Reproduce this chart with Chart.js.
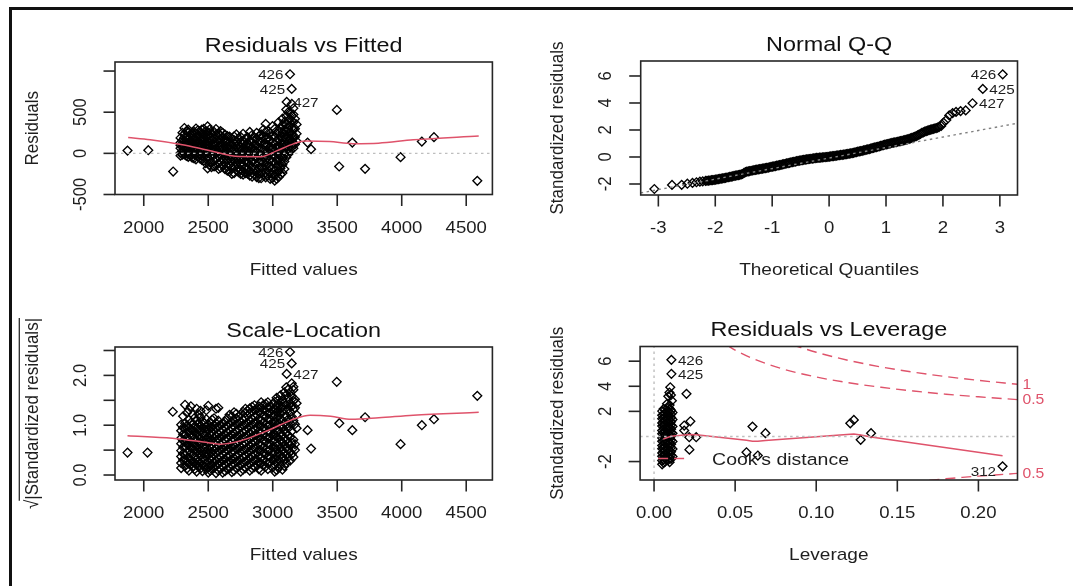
<!DOCTYPE html>
<html><head><meta charset="utf-8">
<script src="https://cdn.jsdelivr.net/npm/chart.js@4.4.1/dist/chart.umd.min.js"></script>
<style>
html,body{margin:0;padding:0;background:#fff;}
#wrap{position:relative;width:1073px;height:586px;overflow:hidden;background:#fff;}
canvas{position:absolute;left:0;top:0;}
#frameTop{position:absolute;left:9px;top:7px;width:1064px;height:3px;background:#111;}
#frameLeft{position:absolute;left:9px;top:7px;width:3px;height:579px;background:#111;}
</style></head><body>
<div id="wrap">
<canvas id="c1" width="1073" height="586"></canvas>
<canvas id="c2" width="1073" height="586"></canvas>
<canvas id="c3" width="1073" height="586"></canvas>
<canvas id="c4" width="1073" height="586"></canvas>
<div id="frameTop"></div><div id="frameLeft"></div>
</div>
<script>
// ---------- Panel 1: Residuals vs Fitted ----------
const rfCols = [
 [2285,[130,62,4,188,98,-28]],
 [2315,[308,236,152,88,33,-12,194]],
 [2345,[262,178,118,57,2,-43,288,91]],
 [2375,[221,148,83,18,-52,253,112]],
 [2405,[302,191,122,49,-18,238,153,-72]],
 [2435,[268,203,128,71,-3,-61,158,28]],
 [2465,[297,183,108,52,-12,-88,232,141]],
 [2495,[328,221,149,87,22,-53,-182,262,118]],
 [2525,[243,168,101,38,-31,-109,-168,197,63]],
 [2560,[296,188,121,58,-2,-71,-148,228,18]],
 [2595,[271,172,107,41,-22,-98,-173,212,79]],
 [2630,[228,149,82,19,-51,-118,-192,181,-9]],
 [2665,[204,131,58,-2,-69,-139,-218,99,-32]],
 [2700,[207,122,49,-12,-81,-158,-241,162,18]],
 [2735,[183,108,42,-28,-99,-171,-229,61,-62]],
 [2770,[238,151,69,2,-71,-142,-218,112,-258]],
 [2805,[197,121,38,-31,-109,-181,-248,81,-19]],
 [2840,[223,129,61,-21,-101,-168,-239,-282,168]],
 [2875,[249,179,98,22,-58,-141,-212,-288,62]],
 [2910,[232,141,58,-19,-92,-169,-238,-302,188]],
 [2945,[358,262,168,91,8,-72,-151,-231,-291,119]],
 [2980,[241,161,79,-2,-81,-159,-242,-311,41]],
 [3015,[298,202,118,39,-41,-121,-198,-262,-332]],
 [3045,[378,268,172,78,-2,-79,-152,-221,-289]],
 [3075,[342,251,168,92,11,-62,-139,-238,421]],
 [3105,[452,348,262,178,98,21,-48,532]],
 [3135,[498,418,338,262,181,102,31]],
 [3160,[548,472,378,291,198,121,62]],
 [3185,[352,238,148]]
];
const rfCols2 = [
 [2300,[160,95,30,250,-15]],
 [2330,[270,200,120,60,0,-30]],
 [2360,[230,150,90,30,-20,190]],
 [2390,[260,180,110,50,-10,-60]],
 [2420,[280,210,140,80,10,-40]],
 [2450,[240,170,100,40,-30,-80,290]],
 [2480,[270,200,130,70,0,-60,-120]],
 [2510,[290,190,130,70,0,-80,-140]],
 [2545,[260,180,110,50,-20,-90,-160]],
 [2580,[240,150,90,20,-40,-120,-190]],
 [2612,[250,190,120,60,-10,-80,-150]],
 [2648,[210,140,70,0,-80,-160,-210]],
 [2683,[180,110,30,-40,-110,-180,-250]],
 [2718,[230,150,80,10,-50,-120,-200]],
 [2752,[200,140,70,0,-70,-130,-200,-250]],
 [2788,[180,100,30,-40,-100,-170,-240]],
 [2822,[260,160,90,20,-60,-140,-210,-270]],
 [2858,[190,110,40,-40,-120,-190,-260]],
 [2892,[210,140,60,-30,-110,-180,-250,-300]],
 [2928,[290,200,110,40,-40,-110,-190,-260]],
 [2962,[270,190,100,30,-50,-120,-200,-270]],
 [2998,[330,210,130,60,-20,-100,-180,-250,-300]],
 [3030,[240,150,80,0,-80,-160,-240,-310]],
 [3060,[300,210,120,40,-40,-110,-180,-260]],
 [3090,[380,290,210,130,50,-20,-100,-190]],
 [3120,[500,400,300,220,140,60,-10]],
 [3148,[600,460,390,310,230,150,80]],
 [3172,[420,300,200,110]]
];
const rfExtra = [[1874,34],[2035,38],[2228,-221],[3497,528],[3515,-160],[3617,131],[3716,-188],[3991,-46],[4156,143],[4250,197],[4586,-334],[3270,131],[3297,51],[3134,961],[3147,783],[3108,625]];
const rfSmoothX = [1879,2050,2300,2490,2740,2910,3030,3160,3250,3440,3620,3820,4090,4597];
const rfSmoothY = [192,165,105,42,-39,-40,30,115,150,143,118,124,164,212];
const rfXTicks = [2000,2500,3000,3500,4000,4500];
const rfYTicks = [-500,0,500,1000];
const rfYLabels = ['-500','0','500',''];
const rfIds = [['426',3134,961,'left'],['425',3147,783,'left'],['427',3108,625,'right']];

// ---------- Panel 2: Normal Q-Q ----------
const qqTheo = [-3.07,-2.76,-2.59,-2.49,-2.40,-2.33,-2.27,-2.22,
 -2.17,-2.12,-2.07,-2.02,-1.97,-1.92,-1.87,-1.82,-1.77,-1.72,-1.67,-1.62,-1.57,-1.52,-1.47,-1.42,-1.37,-1.32,-1.27,-1.22,-1.17,-1.12,-1.07,-1.02,
 -0.97,-0.92,-0.87,-0.82,-0.77,-0.72,-0.67,-0.62,-0.57,-0.52,-0.47,-0.42,-0.37,-0.32,-0.27,-0.22,-0.17,-0.12,-0.07,-0.02,
 0.03,0.08,0.13,0.18,0.23,0.28,0.33,0.38,0.43,0.48,0.53,0.58,0.63,0.68,0.73,0.78,0.83,0.88,0.93,0.98,
 1.03,1.08,1.13,1.18,1.23,1.28,1.33,1.38,1.43,1.48,1.53,1.58,1.63,1.68,1.73,1.78,1.83,1.88,1.93,1.97,
 2.01,2.06,2.11,2.17,2.23,2.31,2.40,2.52,2.70,3.05];
const qqStd = [-2.37,-2.07,-2.06,-1.98,-1.92,-1.87,-1.83,-1.80,
 -1.77,-1.75,-1.72,-1.70,-1.66,-1.62,-1.58,-1.54,-1.50,-1.45,-1.40,-1.36,-1.32,-1.26,-1.12,-1.06,-1.02,-0.98,-0.94,-0.90,-0.86,-0.82,-0.78,-0.73,
 -0.69,-0.64,-0.60,-0.55,-0.50,-0.45,-0.40,-0.36,-0.31,-0.27,-0.23,-0.19,-0.16,-0.13,-0.10,-0.07,-0.05,-0.03,-0.01,0.01,
 0.04,0.07,0.10,0.13,0.16,0.19,0.23,0.27,0.31,0.36,0.41,0.46,0.51,0.56,0.62,0.68,0.73,0.79,0.85,0.91,
 0.96,1.01,1.06,1.10,1.15,1.20,1.25,1.31,1.38,1.46,1.55,1.66,1.78,1.88,1.95,2.02,2.08,2.14,2.22,2.30,
 2.55,2.74,3.08,3.25,3.34,3.40,3.45,3.98,5.04,6.12];
const qqTheo2 = [-2.145,-2.095,-2.045,-1.995,-1.945,-1.895,-1.845,-1.795,-1.745,-1.695,-1.645,-1.595,-1.545,-1.495,-1.445,-1.395,-1.345,-1.295,-1.245,-1.195,-1.145,-1.095,-1.045,
 -0.995,-0.945,-0.895,-0.845,-0.795,-0.745,-0.695,-0.645,-0.595,-0.545,-0.495,-0.445,-0.395,-0.345,-0.295,-0.245,-0.195,-0.145,-0.095,-0.045,
 0.005,0.055,0.105,0.155,0.205,0.255,0.305,0.355,0.405,0.455,0.505,0.555,0.605,0.655,0.705,0.755,0.805,0.855,0.905,0.955,
 1.005,1.055,1.105,1.155,1.205,1.255,1.305,1.355,1.405,1.455,1.505,1.555,1.605,1.655,1.705,1.755,1.805,1.855,1.905];
const qqStd2 = [-1.76,-1.74,-1.71,-1.68,-1.64,-1.60,-1.56,-1.52,-1.48,-1.43,-1.38,-1.34,-1.29,-1.18,-1.09,-1.04,-1.00,-0.96,-0.92,-0.88,-0.84,-0.80,-0.76,
 -0.71,-0.67,-0.62,-0.58,-0.53,-0.48,-0.43,-0.38,-0.34,-0.29,-0.25,-0.21,-0.18,-0.15,-0.12,-0.09,-0.06,-0.04,-0.02,0.00,
 0.03,0.06,0.09,0.12,0.15,0.18,0.21,0.25,0.29,0.34,0.39,0.44,0.49,0.54,0.59,0.65,0.71,0.76,0.82,0.88,
 0.94,0.99,1.04,1.08,1.13,1.18,1.23,1.28,1.34,1.42,1.50,1.60,1.72,1.83,1.92,1.99,2.05,2.11,2.18];
const qqLineX = [-3.31,3.31];
const qqLineY = [-2.66,2.50];
const qqXTicks = [-3,-2,-1,0,1,2,3];
const qqYTicks = [-2,0,2,4,6];
const qqIds = [['426',3.05,6.12,'left'],['425',2.70,5.04,'right'],['427',2.52,3.98,'right']];

// ---------- Panel 3: Scale-Location ----------
const slCols = [
 [2290,[0.24,0.37,0.49,0.63,0.74,0.89,1.01,0.14]],
 [2320,[0.18,0.31,0.41,0.56,0.67,0.81,0.93,1.04,1.41]],
 [2350,[0.09,0.23,0.35,0.49,0.61,0.71,0.86,0.96,1.11,1.31]],
 [2380,[0.16,0.27,0.41,0.53,0.64,0.79,0.89,1.03,1.21]],
 [2410,[0.07,0.21,0.32,0.46,0.58,0.69,0.83,0.94,1.09,1.33]],
 [2440,[0.13,0.24,0.39,0.49,0.63,0.74,0.88,0.99,1.16,1.29]],
 [2470,[0.17,0.31,0.43,0.54,0.68,0.79,0.93,1.04]],
 [2500,[0.05,0.16,0.27,0.41,0.51,0.66,0.76,0.91,1.01,1.39]],
 [2530,[0.11,0.21,0.36,0.46,0.61,0.71,0.86,0.96,1.11]],
 [2560,[0.04,0.19,0.29,0.44,0.54,0.69,0.79,0.94,1.04,1.33]],
 [2595,[0.12,0.26,0.36,0.51,0.61,0.76,0.86,1.01]],
 [2630,[0.08,0.21,0.32,0.46,0.57,0.71,0.82,0.96,1.07]],
 [2665,[0.14,0.28,0.38,0.53,0.63,0.78,0.89,1.03,1.21]],
 [2700,[0.09,0.23,0.34,0.48,0.59,0.73,0.84,0.98,1.09,1.26]],
 [2735,[0.17,0.28,0.42,0.53,0.67,0.78,0.92,1.03,1.17]],
 [2770,[0.11,0.25,0.36,0.50,0.61,0.75,0.86,1.00,1.11,1.27]],
 [2805,[0.19,0.29,0.44,0.54,0.69,0.79,0.94,1.04,1.19,1.29]],
 [2840,[0.13,0.27,0.38,0.52,0.63,0.77,0.88,1.02,1.13,1.28,1.37]],
 [2875,[0.21,0.31,0.46,0.56,0.71,0.81,0.96,1.06,1.21,1.32]],
 [2910,[0.09,0.23,0.34,0.49,0.59,0.74,0.84,0.99,1.09,1.24,1.35,1.46]],
 [2945,[0.17,0.27,0.42,0.52,0.67,0.77,0.92,1.02,1.17,1.28,1.43]],
 [2980,[0.26,0.36,0.51,0.61,0.76,0.86,1.01,1.11,1.26,1.37]],
 [3015,[0.07,0.21,0.31,0.46,0.56,0.71,0.81,0.96,1.06,1.21,1.32,1.47]],
 [3045,[0.14,0.31,0.44,0.61,0.74,0.91,1.04,1.19,1.29,1.43,1.51]],
 [3075,[0.11,0.36,0.49,0.66,0.79,0.96,1.09,1.26,1.37,1.51]],
 [3105,[0.24,0.41,0.54,0.71,0.84,1.01,1.19,1.41,1.61,1.76]],
 [3135,[0.29,0.46,0.59,0.76,1.04,1.26,1.44,1.66]],
 [3160,[0.36,0.54,0.71,1.09,1.31,1.49,1.71]],
 [3185,[0.94,1.21,1.44]]
];
const slCols2 = [
 [2305,[0.30,0.43,0.56,0.69,0.82,0.95,1.18]],
 [2335,[0.13,0.26,0.45,0.62,0.76,0.99,1.25]],
 [2365,[0.20,0.30,0.43,0.55,0.66,0.79,0.92,1.05,1.38]],
 [2395,[0.12,0.25,0.37,0.50,0.61,0.74,0.86,0.98,1.15]],
 [2425,[0.17,0.28,0.42,0.54,0.66,0.78,0.92,1.03,1.22]],
 [2455,[0.08,0.20,0.33,0.45,0.57,0.70,0.83,0.95,1.08]],
 [2485,[0.12,0.24,0.36,0.47,0.60,0.72,0.85,0.97,1.12,1.30]],
 [2515,[0.09,0.20,0.32,0.45,0.56,0.70,0.82,0.95,1.06]],
 [2545,[0.15,0.26,0.40,0.50,0.65,0.75,0.90,1.00,1.14]],
 [2578,[0.09,0.22,0.33,0.47,0.58,0.72,0.83,0.97,1.09,1.35]],
 [2612,[0.05,0.17,0.29,0.41,0.53,0.66,0.78,0.91,1.03]],
 [2648,[0.12,0.25,0.37,0.50,0.60,0.74,0.86,0.99,1.14]],
 [2683,[0.06,0.19,0.31,0.44,0.56,0.69,0.81,0.94,1.06,1.18]],
 [2718,[0.14,0.27,0.39,0.52,0.64,0.77,0.89,1.02,1.14,1.23]],
 [2752,[0.07,0.20,0.32,0.45,0.57,0.70,0.82,0.95,1.07,1.21]],
 [2788,[0.14,0.27,0.39,0.52,0.64,0.77,0.89,1.02,1.14,1.25,1.33]],
 [2822,[0.09,0.22,0.35,0.47,0.60,0.72,0.85,0.97,1.10,1.23,1.34]],
 [2858,[0.16,0.29,0.41,0.54,0.66,0.79,0.91,1.04,1.17,1.30,1.40]],
 [2892,[0.12,0.25,0.38,0.50,0.63,0.75,0.88,1.00,1.13,1.26,1.38]],
 [2928,[0.19,0.31,0.44,0.56,0.69,0.81,0.94,1.06,1.19,1.31,1.41]],
 [2962,[0.12,0.24,0.37,0.49,0.62,0.74,0.87,0.99,1.12,1.24,1.36,1.46]],
 [2998,[0.15,0.30,0.43,0.56,0.68,0.80,0.93,1.05,1.18,1.30,1.42]],
 [3030,[0.10,0.24,0.38,0.52,0.64,0.77,0.89,1.01,1.14,1.27,1.39,1.55]],
 [3060,[0.20,0.40,0.55,0.69,0.84,0.98,1.12,1.24,1.35,1.46,1.60]],
 [3090,[0.18,0.30,0.44,0.60,0.74,0.90,1.04,1.17,1.32,1.45,1.66]],
 [3120,[0.36,0.50,0.64,0.80,0.94,1.12,1.33,1.53,1.72]],
 [3148,[0.42,0.64,0.88,1.17,1.38,1.58]],
 [3172,[0.50,0.62,1.02,1.35,1.52]]
];
const slExtra = [[1874,0.45],[2029,0.45],[2225,1.27],[3496,1.87],[3516,1.04],[3617,0.90],[3716,1.16],[3991,0.62],[4156,1.00],[4250,1.12],[4586,1.59],[3270,0.90],[3297,0.53],[3134,2.47],[3147,2.24],[3108,2.03],[3147,1.84],[3160,1.77]];
const slSmoothX = [1874,2221,2501,2595,2755,2968,3181,3289,3449,3609,3822,4089,4597];
const slSmoothY = [0.79,0.74,0.65,0.62,0.69,0.90,1.14,1.20,1.18,1.12,1.15,1.20,1.26];
const slYTicks = [0,0.5,1,1.5,2,2.5];
const slYLabels = ['0.0','','1.0','','2.0',''];
const slIds = [['426',3134,2.47,'left'],['425',3147,2.24,'left'],['427',3108,2.03,'right']];

// ---------- Panel 4: Residuals vs Leverage ----------
const lvCols = [
 [0.0050,[-1.92,-1.58,-1.31,-0.97,-0.72,-0.38,-0.12,0.21,0.47,0.83,1.08,1.42,1.69,2.02,-2.22]],
 [0.0059,[-2.10,-1.83,-1.52,-1.22,-0.95,-0.64,-0.33,-0.02,0.28,0.57,0.88,1.18,1.47,1.78,2.20]],
 [0.0068,[-2.01,-1.73,-1.44,-1.17,-0.83,-0.56,-0.23,0.06,0.37,0.63,0.97,1.24,1.56,1.83,2.12]],
 [0.0087,[-1.88,-1.62,-1.28,-1.02,-0.68,-0.41,-0.08,0.18,0.52,0.78,1.12,1.38,1.72,1.98,2.28]],
 [0.0096,[-2.05,-1.71,-1.41,-1.12,-0.79,-0.51,-0.19,0.11,0.42,0.71,1.02,1.31,1.62,1.91,2.22,2.50]],
 [0.0105,[-1.79,-1.48,-1.22,-0.88,-0.62,-0.28,0.02,0.31,0.58,0.92,1.18,1.52,1.78,2.08]],
 [0.0114,[-1.60,-1.00,-0.40,0.25,0.80,1.35,1.90]]
];
const lvExtra = [[0.0100,3.92],[0.0095,3.5],[0.0088,3.2],[0.0104,3.3],[0.0110,2.85],[0.0080,2.6],[0.0107,6.11],[0.0107,4.99],[0.0200,3.4],[0.0186,0.87],[0.0224,1.21],[0.0217,-0.06],[0.0260,-0.06],[0.0218,-1.05],[0.0186,0.47],[0.057,-1.26],[0.0607,0.79],[0.064,-1.52],[0.0687,0.26],[0.121,1.05],[0.1232,1.32],[0.1274,-0.27],[0.1338,0.26],[0.2149,-2.38]];
const lvSmoothX = [0.0057,0.0105,0.0186,0.0218,0.026,0.057,0.0607,0.064,0.0687,0.121,0.1232,0.1274,0.1338,0.2149];
const lvSmoothY = [-0.20,0.02,0.12,0.15,0.14,-0.30,-0.38,-0.38,-0.33,0.18,0.20,0.12,-0.05,-1.53];
const cook1X = [0.085,0.09,0.10,0.12,0.14,0.16,0.18,0.20,0.2241];
const cook1Y = [7.34,7.11,6.71,6.06,5.54,5.12,4.77,4.47,4.16];
const cook05X = [0.045,0.05,0.06,0.08,0.10,0.12,0.14,0.16,0.18,0.20,0.2241];
const cook05Y = [7.28,6.89,6.26,5.36,4.74,4.28,3.92,3.62,3.37,3.16,2.94];
const cook05nX = [0.16,0.17,0.18,0.19,0.20,0.21,0.2241];
const cook05nY = [-3.62,-3.49,-3.37,-3.26,-3.16,-3.07,-2.94];
const cookLabels = [['1',4.16],['0.5',2.94],['0.5',-2.94]];
const lvXTicks = [0,0.05,0.10,0.15,0.20];
const lvXLabels = ['0.00','0.05','0.10','0.15','0.20'];
const lvYTicks = [-2,2,4,6];
const lvIds = [['426',0.0107,6.11,'right'],['425',0.0107,4.99,'right'],['312',0.2149,-2.38,'left',5]];

// ---------- rendering helpers ----------
const W = 1073, H = 586;
const FONT = '"Liberation Sans", Arial, Helvetica, sans-serif';
const RED = '#DF536B';
const TXT = '#1e1e1e';
const TICK_LEN = 11.5;
const SX = 1.12; // horizontal stretch of the reference picture

function pts(xs, ys){ return xs.map((x,i)=>({x:x, y:ys[i]})); }
function colsToPts(cols){ const out=[]; cols.forEach(c=>c[1].forEach(y=>out.push({x:c[0],y:y}))); return out; }
function pairPts(arr){ return arr.map(p=>({x:p[0],y:p[1]})); }

// horizontal text, stretched horizontally like the reference
function hText(ctx, s, x, y, size, align, color){
  ctx.save(); ctx.translate(x, y); ctx.scale(SX, 1);
  ctx.font = size + 'px ' + FONT; ctx.textAlign = align || 'center'; ctx.textBaseline = 'middle';
  ctx.fillStyle = color || TXT; ctx.fillText(s, 0, 0); ctx.restore();
}
// vertical text (reads bottom to top)
function vText(ctx, s, x, y, size){
  ctx.save(); ctx.translate(x, y); ctx.rotate(-Math.PI/2); ctx.scale(1, SX);
  ctx.font = size + 'px ' + FONT; ctx.textAlign = 'center'; ctx.textBaseline = 'middle';
  ctx.fillStyle = TXT; ctx.fillText(s, 0, 0); ctx.restore();
}

function scatterSet(data){
  return {data, pointStyle:'rectRot', pointRadius:4.4, pointBorderWidth:1.35,
    pointBorderColor:'#000', pointBackgroundColor:'rgba(0,0,0,0)', showLine:false, clip:10};
}
function lineSet(data, color, width, dash, smooth){
  return {data, showLine:true, pointRadius:0, borderColor:color, borderWidth:width,
    borderDash:dash||[], cubicInterpolationMode: smooth ? 'monotone' : 'default', tension:0, clip:0, fill:false};
}

function axesPlugin(d){
  return {
    id:'rAxes',
    afterDatasetsDraw(chart){
      const ctx = chart.ctx, a = chart.chartArea, xs = chart.scales.x, ys = chart.scales.y;
      ctx.save();
      ctx.strokeStyle = '#262626'; ctx.lineWidth = 1.6; ctx.setLineDash([]);
      ctx.strokeRect(a.left, a.top, a.right-a.left, a.bottom-a.top);
      d.xTicks.forEach((v,i)=>{
        const px = xs.getPixelForValue(v);
        ctx.beginPath(); ctx.moveTo(px, a.bottom); ctx.lineTo(px, a.bottom+TICK_LEN); ctx.stroke();
        hText(ctx, d.xLabels[i], px, a.bottom+33.5, 16.6, 'center');
      });
      d.yTicks.forEach((v,i)=>{
        const py = ys.getPixelForValue(v);
        ctx.beginPath(); ctx.moveTo(a.left, py); ctx.lineTo(a.left-TICK_LEN, py); ctx.stroke();
        if (d.yLabels[i]) vText(ctx, d.yLabels[i], a.left-34.5, py, 16.6);
      });
      const cx = (a.left+a.right)/2, cy = (a.top+a.bottom)/2;
      hText(ctx, d.title, cx, a.top-16, 20.9, 'center', '#111');
      hText(ctx, d.xlab, cx, a.bottom+75.5, 17, 'center');
      if (d.sqrtLab) {
        ctx.save(); ctx.translate(a.left-82.5, cy); ctx.rotate(-Math.PI/2); ctx.scale(1, SX);
        ctx.font = '17px ' + FONT; ctx.textBaseline = 'middle'; ctx.fillStyle = TXT;
        const rad = '\u221A', body = d.ylab;
        const wr = ctx.measureText(rad).width, wb = ctx.measureText(body).width;
        const x0 = -(wr+wb)/2;
        ctx.textAlign = 'left';
        ctx.fillText(rad, x0, 0);
        ctx.fillText(body, x0+wr, 0);
        ctx.strokeStyle = TXT; ctx.lineWidth = 1.1;
        ctx.beginPath(); ctx.moveTo(x0+wr-1, -11.8); ctx.lineTo(x0+wr+wb, -11.8); ctx.stroke();
        ctx.restore();
      } else {
        vText(ctx, d.ylab, a.left-82.5, cy, 17);
      }
      // point id labels
      d.ids.forEach(l=>{
        const px = xs.getPixelForValue(l[1]), py = ys.getPixelForValue(l[2]);
        const dy = l[4] || 0;
        if (l[3]==='left') hText(ctx, l[0], px-6.5, py+1+dy, 13.6, 'right');
        else hText(ctx, l[0], px+6.5, py+1+dy, 13.6, 'left');
      });
      if (d.extra) d.extra(ctx, a, xs, ys);
      ctx.restore();
    }
  };
}

function makePanel(id, box, xr, yr, datasets, deco){
  return new Chart(document.getElementById(id), {
    type:'scatter',
    data:{datasets},
    options:{
      responsive:false, animation:false, devicePixelRatio:1, events:[],
      layout:{padding:{left:box[0], top:box[1], right:W-box[2], bottom:H-box[3]}},
      scales:{
        x:{type:'linear', min:xr[0], max:xr[1], display:false},
        y:{type:'linear', min:yr[0], max:yr[1], display:false}
      },
      plugins:{legend:{display:false}, tooltip:{enabled:false}, title:{display:false}}
    },
    plugins:[axesPlugin(deco)]
  });
}

// Panel 1
makePanel('c1', [115,62,492.4,194.5], [1777,4703], [-500,1110], [
  lineSet(pts(rfSmoothX, rfSmoothY), RED, 1.5, null, true),
  lineSet([{x:1777,y:0},{x:4703,y:0}], '#bebebe', 1.4, [2.5,3.5], false),
  scatterSet(colsToPts(rfCols).concat(colsToPts(rfCols2), pairPts(rfExtra)))
], {title:'Residuals vs Fitted', xlab:'Fitted values', ylab:'Residuals',
    xTicks:rfXTicks, xLabels:rfXTicks.map(String), yTicks:rfYTicks, yLabels:rfYLabels, ids:rfIds});

// Panel 2
makePanel('c2', [640.7,61,1017.5,195], [-3.31,3.31], [-2.815,7.11], [
  lineSet(pts(qqLineX, qqLineY), '#808080', 1.4, [2.5,3.5], false),
  scatterSet(pts(qqTheo, qqStd).concat(pts(qqTheo2, qqStd2)))
], {title:'Normal Q-Q', xlab:'Theoretical Quantiles', ylab:'Standardized residuals',
    xTicks:qqXTicks, xLabels:qqXTicks.map(String), yTicks:qqYTicks, yLabels:qqYTicks.map(String), ids:qqIds});

// Panel 3
makePanel('c3', [115,347,492.4,480], [1777,4703], [-0.1,2.57], [
  lineSet(pts(slSmoothX, slSmoothY), RED, 1.5, null, true),
  scatterSet(colsToPts(slCols).concat(colsToPts(slCols2), pairPts(slExtra)))
], {title:'Scale-Location', xlab:'Fitted values', ylab:'|Standardized residuals|', sqrtLab:true,
    xTicks:rfXTicks, xLabels:rfXTicks.map(String), yTicks:slYTicks, yLabels:slYLabels, ids:slIds});

// Panel 4
makePanel('c4', [640.1,346.5,1017.5,480], [-0.0086,0.2241], [-3.47,7.17], [
  lineSet(pts(cook1X, cook1Y), RED, 1.4, [10,6], true),
  lineSet(pts(cook05X, cook05Y), RED, 1.4, [10,6], true),
  lineSet(pts(cook05nX, cook05nY), RED, 1.4, [10,6], true),
  lineSet([{x:-0.0086,y:0},{x:0.2241,y:0}], '#bebebe', 1.4, [2.5,3.5], false),
  lineSet([{x:0,y:-3.47},{x:0,y:7.17}], '#bebebe', 1.4, [2.5,3.5], false),
  lineSet(pts(lvSmoothX, lvSmoothY), RED, 1.5, null, false),
  scatterSet(colsToPts(lvCols).concat(pairPts(lvExtra)))
], {title:'Residuals vs Leverage', xlab:'Leverage', ylab:'Standardized residuals',
    xTicks:lvXTicks, xLabels:lvXLabels, yTicks:lvYTicks, yLabels:lvYTicks.map(String), ids:lvIds,
    extra:(ctx, a, xs, ys)=>{
      cookLabels.forEach(c=>{ hText(ctx, c[0], a.right+5, ys.getPixelForValue(c[1])+1, 14, 'left', RED); });
      // legend
      ctx.strokeStyle = RED; ctx.lineWidth = 1.4; ctx.setLineDash([10,6]);
      ctx.beginPath(); ctx.moveTo(a.left+18, a.bottom-21.5); ctx.lineTo(a.left+50, a.bottom-21.5); ctx.stroke();
      ctx.setLineDash([]);
      hText(ctx, "Cook's distance", a.left+72, a.bottom-20, 17.4, 'left');
    }});
</script>
</body></html>
